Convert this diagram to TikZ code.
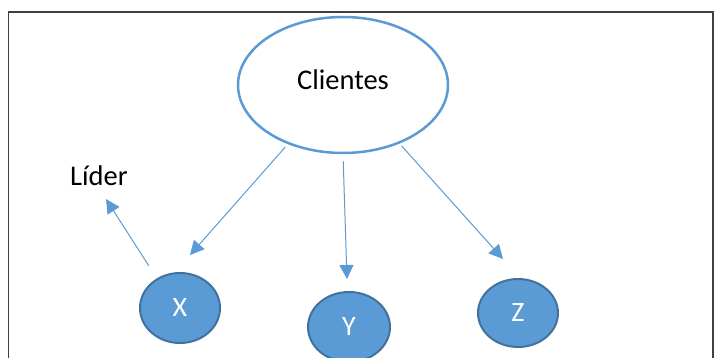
\documentclass[tikz,border=0pt]{standalone}
\usepackage{fontspec}
\setmainfont{Carlito}
\usetikzlibrary{arrows.meta,shapes.geometric}
\definecolor{accent}{HTML}{5B9BD5}
\definecolor{accentdark}{HTML}{41719C}
\definecolor{framegrey}{HTML}{404040}
\tikzset{
  bigoval/.style={ellipse, draw=accent, line width=2.5pt, fill=white, inner sep=0pt,
    minimum width=210pt, minimum height=136pt, font=\fontsize{28.5}{34}\selectfont},
  smalloval/.style={ellipse, draw=accentdark, line width=2pt, fill=accent, inner sep=0pt,
    text=white, font=\fontsize{28}{34}\selectfont},
  plaintext/.style={inner sep=0pt, font=\fontsize{28.5}{34}\selectfont},
  arr/.style={draw=accent, line width=1pt, -{Triangle[length=14pt,width=14pt]}},
}
\begin{document}
\begin{tikzpicture}[x=1pt,y=-1pt]
\useasboundingbox (0,0) rectangle (714,358);
\begin{scope}
\clip (0,0) rectangle (714,358);
\draw[framegrey, line width=1.5pt] (8.5,380) -- (8.5,12) -- (713,12) -- (713,380);
\node[bigoval] (cl) at (343,85) {\raisebox{11pt}{Clientes}};
\node[smalloval, minimum width=80pt, minimum height=70pt] (x) at (180,308) {\raisebox{-5pt}{X}};
\node[smalloval, minimum width=82pt, minimum height=70pt] (y) at (349,327) {\raisebox{-5pt}{Y}};
\node[smalloval, minimum width=80pt, minimum height=68pt] (z) at (518,313) {\raisebox{-5pt}{Z}};
\node[plaintext] (ld) at (99,176) {Líder};
\coordinate (tx) at (190,255);
\coordinate (ty) at (347,279);
\coordinate (tz) at (503,259);
\coordinate (tl) at (106,199);
\draw[arr, shorten <=4pt] (cl.227) -- (tx);
\draw[arr, shorten <=7pt] (cl.270) -- (ty);
\draw[arr, shorten <=3pt] (cl.314) -- (tz);
\draw[arr, shorten <=15pt] (x.128) -- (tl);
\end{scope}
\end{tikzpicture}
\end{document}
